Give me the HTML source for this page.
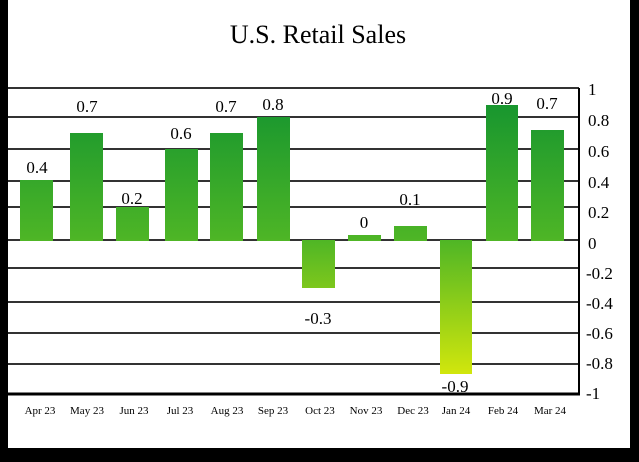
<!DOCTYPE html><html><head><style>body{margin:0;background:#000}</style></head><body>
<svg width="639" height="457" xmlns="http://www.w3.org/2000/svg" font-family="'Liberation Serif',serif">
<rect x="0" y="0" width="639" height="457" fill="#000"/>
<rect x="8" y="0" width="622" height="448" fill="#fff"/>
<defs><linearGradient id="g" gradientUnits="userSpaceOnUse" x1="0" y1="100" x2="0" y2="376">
<stop offset="0" stop-color="#16952f"/><stop offset="0.5" stop-color="#4db526"/><stop offset="1" stop-color="#d3e70c"/></linearGradient></defs>
<g stroke="#333" stroke-width="2">
<line x1="8" x2="579" y1="88" y2="88"/><line x1="8" x2="579" y1="117" y2="117"/><line x1="8" x2="579" y1="149" y2="149"/><line x1="8" x2="579" y1="181" y2="181"/><line x1="8" x2="579" y1="207" y2="207"/><line x1="8" x2="579" y1="240" y2="240"/><line x1="8" x2="579" y1="268" y2="268"/><line x1="8" x2="579" y1="302" y2="302"/><line x1="8" x2="579" y1="333" y2="333"/><line x1="8" x2="579" y1="364" y2="364"/><line x1="8" x2="580" y1="394" y2="394" stroke="#000" stroke-width="3"/><line x1="579" x2="579" y1="88" y2="395" stroke="#000" stroke-width="2"/>
</g>
<g fill="url(#g)">
<rect x="20" y="180" width="33" height="61"/><rect x="70" y="133" width="33" height="108"/><rect x="116" y="207" width="33" height="34"/><rect x="165" y="149" width="33" height="92"/><rect x="210" y="133" width="33" height="108"/><rect x="257" y="117" width="33" height="124"/><rect x="302" y="240" width="33" height="48"/><rect x="348" y="235" width="33" height="6"/><rect x="394" y="226" width="33" height="15"/><rect x="440" y="240" width="32" height="134"/><rect x="486" y="105" width="32" height="136"/><rect x="531" y="130" width="33" height="111"/>
</g>
<text x="318" y="43" text-anchor="middle" font-size="26">U.S. Retail Sales</text>
<g font-size="17" text-anchor="middle">
<text x="37" y="173">0.4</text><text x="87" y="112">0.7</text><text x="132" y="204">0.2</text><text x="181" y="139">0.6</text><text x="226" y="112">0.7</text><text x="273" y="110">0.8</text><text x="318" y="324">-0.3</text><text x="364" y="228">0</text><text x="410" y="205">0.1</text><text x="455" y="392">-0.9</text><text x="502" y="104">0.9</text><text x="547" y="109">0.7</text>
</g>
<g font-size="17">
<text x="588" y="95">1</text><text x="588" y="126">0.8</text><text x="588" y="157">0.6</text><text x="588" y="188">0.4</text><text x="588" y="218">0.2</text><text x="588" y="249">0</text><text x="586" y="279">-0.2</text><text x="586" y="309">-0.4</text><text x="586" y="339">-0.6</text><text x="586" y="369">-0.8</text><text x="586" y="399">-1</text>
</g>
<g font-size="11" text-anchor="middle">
<text x="40" y="414">Apr 23</text><text x="87" y="414">May 23</text><text x="134" y="414">Jun 23</text><text x="180" y="414">Jul 23</text><text x="227" y="414">Aug 23</text><text x="273" y="414">Sep 23</text><text x="320" y="414">Oct 23</text><text x="366" y="414">Nov 23</text><text x="413" y="414">Dec 23</text><text x="456" y="414">Jan 24</text><text x="503" y="414">Feb 24</text><text x="550" y="414">Mar 24</text>
</g>
</svg></body></html>
